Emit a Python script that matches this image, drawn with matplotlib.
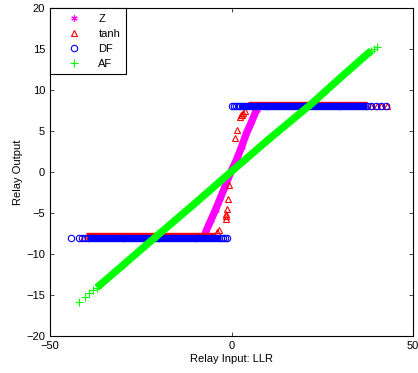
import matplotlib
matplotlib.use("Agg")
import matplotlib.pyplot as plt
import matplotlib.transforms as mtransforms
from matplotlib.lines import Line2D

# ── Data ──────────────────────────────────────────────────────────────────────
# Each relay is a dense cloud of samples; "band" lists trace the solid runs,
# "stray" lists are the isolated samples at the ends of the runs.

# Z relay (linear part, clipped region sits under the DF band)
Z_X = [-7.3, -6.9, -5.6, -4.4, -3.1, -1.8, -0.3, 1.4, 2.8, 4.1, 5.5, 6.9, 7.3]
Z_Y = [-7.6, -7.1, -5.8, -4.6, -3.2, -1.8, -0.1, 1.5, 3.1, 4.7, 6.1, 7.6, 8.0]

# tanh relay
TANH_LEVEL = 8.0
TANH_NEG_BAND_X = [-40.0, -30.0, -20.0, -10.0, -4.2]
TANH_POS_BAND_X = [4.5, 10.0, 20.0, 30.0, 37.2]
TANH_STRAY_X = [-40.8, -3.9, -3.4, -1.6, -1.55, -1.5, -1.36, -1.1, -0.65,
                0.93, 1.4, 2.3, 2.6, 2.9, 3.2, 3.6, 38.5, 40.0, 41.3, 42.8]
TANH_STRAY_Y = [-8.0, -7.3, -7.1, -5.7, -5.4, -5.1, -4.55, -3.3, -1.6,
                4.1, 5.1, 6.7, 6.9, 7.0, 7.2, 7.5, 8.0, 8.0, 8.0, 8.0]

# DF relay (hard decision, +/-8)
DF_LEVEL = 8.0
DF_NEG_BAND_X = [-39.5, -30.0, -20.0, -10.0, -3.0]
DF_POS_BAND_X = [2.0, 10.0, 20.0, 30.0, 37.2]
DF_STRAY_X = [-44.3, -41.9, -41.3, -40.4, -2.4, -1.9, -1.36,
              0.05, 0.7, 1.3, 38.5, 39.9, 41.3, 42.5]
DF_STRAY_Y = [-8.0, -8.0, -8.0, -8.0, -8.0, -8.0, -8.0,
              8.0, 8.0, 8.0, 8.0, 8.0, 8.0, 8.0]

# AF relay (amplify and forward, linear)
AF_BAND_X = [-37.1, -30.0, -20.6, -10.0, 0.45, 10.0, 22.0, 30.0, 38.5]
AF_BAND_Y = [-14.1, -11.4, -7.8, -3.8, 0.24, 3.9, 8.3, 11.5, 14.8]
AF_STRAY_X = [-41.9, -40.4, -39.2, -38.1, 39.3, 40.1]
AF_STRAY_Y = [-15.9, -15.3, -14.8, -14.4, 15.0, 15.3]

X_TICKS = [-50, 0, 50]
Y_TICKS = [-20, -15, -10, -5, 0, 5, 10, 15, 20]

# ── Style ─────────────────────────────────────────────────────────────────────
MAGENTA = "#FF00FF"
RED = "#FF0000"
BLUE = "#0000FF"
GREEN = "#00FF00"
BAND_LW = 5.3          # width of a solid run of overlapping markers (pt)
MS = 4.6
MEW = 0.8

plt.rcParams.update({
    "font.family": ["Liberation Sans", "DejaVu Sans"],
    "font.size": 8,
    "axes.linewidth": 0.8,
    "xtick.direction": "in",
    "ytick.direction": "in",
    "xtick.top": True,
    "ytick.right": True,
    "xtick.major.size": 3,
    "ytick.major.size": 3,
    "xtick.major.width": 0.5,
    "ytick.major.width": 0.5,
})


def band(ax, xs, ys, color, transform=None):
    kw = {} if transform is None else {"transform": transform}
    ax.plot(xs, ys, color=color, lw=BAND_LW, solid_capstyle="butt", **kw)


def markers(ax, xs, ys, color, marker, ms=MS):
    ax.plot(xs, ys, ls="none", marker=marker, ms=ms, mew=MEW,
            mec=color, mfc="none", color=color)


fig = plt.figure(figsize=(4.18, 3.73), dpi=100)
ax = fig.add_axes([50 / 418, 37 / 373, 363 / 418, 328 / 373])

asterisk = (6, 2, 0)

# Z
band(ax, Z_X, Z_Y, MAGENTA)
markers(ax, Z_X, Z_Y, MAGENTA, asterisk)

# tanh: triangle apexes poke out above the DF circles
apex = ax.transData + mtransforms.ScaledTranslation(0, 1.2 / 72, fig.dpi_scale_trans)
band(ax, TANH_NEG_BAND_X, [-TANH_LEVEL] * len(TANH_NEG_BAND_X), RED, apex)
band(ax, TANH_POS_BAND_X, [TANH_LEVEL] * len(TANH_POS_BAND_X), RED, apex)
markers(ax, TANH_STRAY_X, TANH_STRAY_Y, RED, "^", ms=5.0)

# DF
band(ax, DF_NEG_BAND_X, [-DF_LEVEL] * len(DF_NEG_BAND_X), BLUE)
band(ax, DF_POS_BAND_X, [DF_LEVEL] * len(DF_POS_BAND_X), BLUE)
markers(ax, DF_NEG_BAND_X + DF_POS_BAND_X,
        [-DF_LEVEL] * len(DF_NEG_BAND_X) + [DF_LEVEL] * len(DF_POS_BAND_X),
        BLUE, "o")
markers(ax, DF_STRAY_X, DF_STRAY_Y, BLUE, "o")

# AF
band(ax, AF_BAND_X, AF_BAND_Y, GREEN)
markers(ax, AF_BAND_X, AF_BAND_Y, GREEN, "+", ms=5.2)
markers(ax, AF_STRAY_X, AF_STRAY_Y, GREEN, "+", ms=5.2)

ax.set_xlim(-50, 50)
ax.set_ylim(-20, 20)
ax.set_xticks(X_TICKS)
ax.set_yticks(Y_TICKS)
ax.set_xlabel("Relay Input: LLR", labelpad=2)
ax.set_ylabel("Relay Output", labelpad=2)

handles = [
    Line2D([], [], ls="none", marker=asterisk, ms=MS, mew=MEW, color=MAGENTA),
    Line2D([], [], ls="none", marker="^", ms=5.0, mew=MEW, mec=RED, mfc="none"),
    Line2D([], [], ls="none", marker="o", ms=MS, mew=MEW, mec=BLUE, mfc="none"),
    Line2D([], [], ls="none", marker="+", ms=5.2, mew=MEW, color=GREEN),
]
leg = ax.legend(handles, ["Z", "tanh", "DF", "AF"], loc="upper left",
                borderaxespad=0, fancybox=False, framealpha=1,
                edgecolor="black", borderpad=0.5, labelspacing=0.45,
                handlelength=3.4, handletextpad=0.45)
leg.get_frame().set_linewidth(0.8)

fig.savefig("out.png", dpi=100)
